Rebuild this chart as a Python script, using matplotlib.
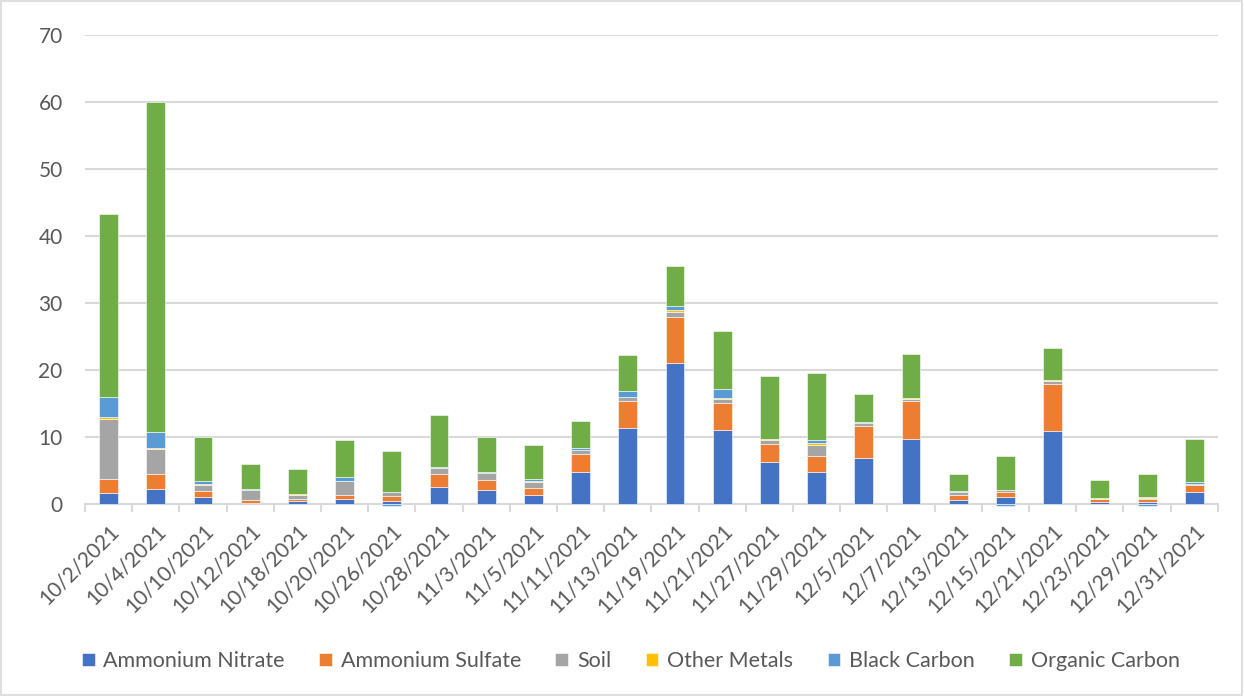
import numpy as np
import matplotlib
matplotlib.use('Agg')
import matplotlib.pyplot as plt
from matplotlib.patches import Rectangle

plt.rcParams['font.family'] = ['Lato', 'DejaVu Sans']

dates = ['10/2/2021', '10/4/2021', '10/10/2021', '10/12/2021', '10/18/2021', '10/20/2021',
         '10/26/2021', '10/28/2021', '11/3/2021', '11/5/2021', '11/11/2021', '11/13/2021',
         '11/19/2021', '11/21/2021', '11/27/2021', '11/29/2021', '12/5/2021', '12/7/2021',
         '12/13/2021', '12/15/2021', '12/21/2021', '12/23/2021', '12/29/2021', '12/31/2021']

ammonium_nitrate = [1.6, 2.3, 1.0, 0.2, 0.4, 0.7, 0.5, 2.5, 2.1, 1.3, 4.8, 11.3,
                    21.0, 11.0, 6.2, 4.8, 6.8, 9.7, 0.6, 1.1, 10.9, 0.3, 0.3, 1.8]
ammonium_sulfate = [2.1, 2.2, 1.0, 0.4, 0.3, 0.6, 0.7, 2.0, 1.5, 1.1, 2.7, 4.1,
                    6.9, 4.1, 2.7, 2.4, 4.8, 5.6, 0.7, 0.7, 7.0, 0.4, 0.4, 1.0]
soil = [9.0, 3.7, 0.9, 1.5, 0.7, 2.1, 0.6, 0.8, 1.0, 0.9, 0.5, 0.5,
        0.8, 0.6, 0.7, 1.6, 0.5, 0.4, 0.5, 0.3, 0.4, 0.1, 0.2, 0.2]
other_metals = [0.3, 0.2, 0.1, 0.05, 0.05, 0.1, 0.05, 0.05, 0.05, 0.1, 0.1, 0.1,
                0.2, 0.1, 0.1, 0.3, 0.05, 0.1, 0.05, 0.05, 0.2, 0.05, 0.1, 0.05]
black_carbon = [2.9, 2.3, 0.4, 0.1, 0.1, 0.5, -0.3, 0.2, 0.1, 0.3, 0.2, 0.8,
                0.7, 1.3, 0.05, 0.5, 0.1, 0.05, 0.05, -0.3, 0.05, 0.05, -0.3, 0.2]
organic_carbon = [27.4, 49.3, 6.6, 3.7, 3.7, 5.5, 6.1, 7.7, 5.3, 5.1, 4.1, 5.5,
                  5.9, 8.7, 9.3, 10.0, 4.1, 6.5, 2.6, 5.0, 4.7, 2.7, 3.4, 6.5]

series = [('Ammonium Nitrate', ammonium_nitrate, '#4472C4'),
          ('Ammonium Sulfate', ammonium_sulfate, '#ED7D31'),
          ('Soil', soil, '#A5A5A5'),
          ('Other Metals', other_metals, '#FFC000'),
          ('Black Carbon', black_carbon, '#5B9BD5'),
          ('Organic Carbon', organic_carbon, '#70AD47')]

text_col = '#595959'
grid_col = '#D9D9D9'

fig = plt.figure(figsize=(12.44, 6.96), dpi=100)
ax = fig.add_axes([0.0683, 0.2759, 0.9107, 0.6738])

x = np.arange(len(dates))
pos_bottom = np.zeros(len(dates))
neg_bottom = np.zeros(len(dates))
for name, vals, col in series:
    v = np.array(vals)
    bottom = np.where(v >= 0, pos_bottom, neg_bottom)
    ax.bar(x, v, 0.4, bottom=bottom, color=col, label=name,
           edgecolor='white', linewidth=0.4, zorder=3, clip_on=False)
    pos_bottom = pos_bottom + np.clip(v, 0, None)
    neg_bottom = neg_bottom + np.clip(v, None, 0)

ax.set_xlim(-0.5, len(dates) - 0.5)
ax.set_ylim(0, 70)
ax.set_yticks(range(0, 71, 10))
ax.yaxis.grid(True, color=grid_col, linewidth=1.5, zorder=0)
ax.set_axisbelow(True)
for s in ['top', 'right', 'left']:
    ax.spines[s].set_visible(False)
ax.spines['bottom'].set_color(grid_col)
ax.spines['bottom'].set_linewidth(1.5)
ax.tick_params(axis='y', length=0, labelsize=15, labelcolor=text_col, pad=16)

ax.set_xticks(x)
ax.set_xticklabels(dates, rotation=45, ha='right', rotation_mode='anchor',
                   fontsize=15, color=text_col)
ax.tick_params(axis='x', length=0, pad=12)
# tick marks between categories
ax.set_xticks(np.arange(-0.5, len(dates)), minor=True)
ax.tick_params(axis='x', which='minor', length=6, color=grid_col, width=1.5)

fig.legend(loc='center', bbox_to_anchor=(0.507, 0.05), ncol=6, frameon=False,
           fontsize=15.5, labelcolor=text_col, handlelength=0.6, handleheight=0.6,
           handletextpad=0.4, columnspacing=1.6)

fig.patches.append(Rectangle((0.001, 0.001), 0.997, 0.997, transform=fig.transFigure,
                             fill=False, edgecolor=grid_col, linewidth=1.2))

fig.savefig('out.png', dpi=100)
